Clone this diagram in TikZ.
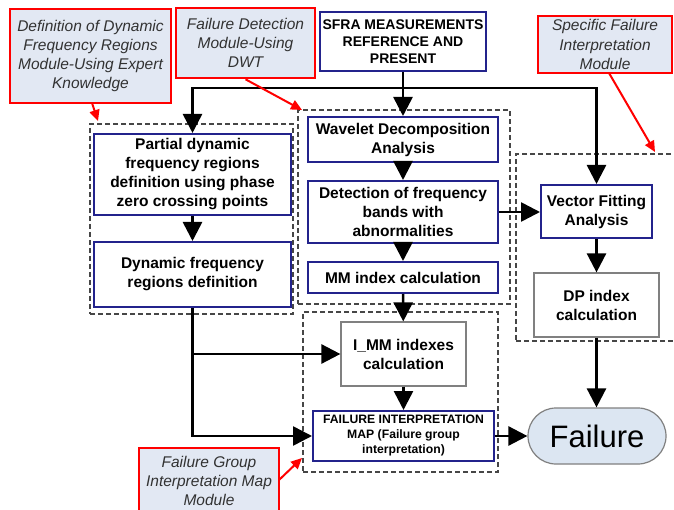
\documentclass[tikz,border=0pt]{standalone}
\usepackage{fontspec}
\setmainfont{Liberation Sans}
\usetikzlibrary{arrows.meta}
\definecolor{navyc}{RGB}{35,35,140}
\definecolor{grayc}{RGB}{128,128,128}
\definecolor{notefill}{RGB}{226,232,243}
\definecolor{notetext}{RGB}{50,50,50}
\definecolor{dashc}{RGB}{70,70,70}
\definecolor{failfill}{RGB}{220,230,242}
\tikzset{
  bluebox/.style={draw=navyc, line width=2pt, fill=white, align=center, inner sep=0pt,
    font=\bfseries\fontsize{15.5}{19}\selectfont},
  graybox/.style={draw=grayc, line width=1.2pt, fill=white, align=center, inner sep=0pt,
    font=\bfseries\fontsize{15.5}{19}\selectfont},
  note/.style={draw=red, line width=2.6pt, fill=notefill, align=center, inner sep=0pt,
    text=notetext, font=\itshape\fontsize{15.5}{19.3}\selectfont},
  group/.style={draw=dashc, line width=1.4pt, dash pattern=on 5pt off 3pt, inner sep=0pt},
  arr/.style={line width=2.6pt, -{Triangle[length=19pt,width=19pt]}},
  redarr/.style={draw=red, line width=2pt, -{Triangle[length=11pt,width=10pt]}}
}
\begin{document}
\begin{tikzpicture}[x=1pt,y=-1pt]
\path[use as bounding box] (0,0) rectangle (674,510);
\clip (0,0) rectangle (674,510);
\fill[white] (0,0) rectangle (674,510);

% groups
\node[group, minimum width=203, minimum height=190] (g1) at (191.5,219) {};
\node[group, minimum width=212, minimum height=194] (g2) at (404,207) {};
\node[group, minimum width=195, minimum height=160] (g3) at (400.5,392) {};
\node[group, minimum width=180, minimum height=187] (g4) at (606,247.5) {};

% notes
\node[note, minimum width=161, minimum height=94] (n1) at (90.5,56)
  {Definition of Dynamic\\Frequency Regions\\Module-Using Expert\\Knowledge};
\node[note, minimum width=139, minimum height=70] (n2) at (245.5,43)
  {Failure Detection\\Module-Using\\DWT};
\node[note, minimum width=134, minimum height=57] (n3) at (605,44.5)
  {Specific Failure\\Interpretation\\Module};
\node[note, minimum width=140, minimum height=66] (n4) at (209,481)
  {Failure Group\\Interpretation Map\\Module};

% process boxes
\node[bluebox, minimum width=166, minimum height=59,
  font=\bfseries\fontsize{14}{16.7}\selectfont] (sfra) at (403,41.5)
  {SFRA MEASUREMENTS\\REFERENCE AND\\PRESENT};
\node[bluebox, minimum width=197, minimum height=81] (partial) at (192.5,174.5)
  {Partial dynamic\\frequency regions\\definition using phase\\zero crossing points};
\node[bluebox, minimum width=197, minimum height=65] (dynamic) at (192.5,274.5)
  {Dynamic frequency\\regions definition};
\node[bluebox, minimum width=190, minimum height=45] (wavelet) at (403,139.5)
  {Wavelet Decomposition\\Analysis};
\node[bluebox, minimum width=190, minimum height=62] (detect) at (403,212)
  {Detection of frequency\\bands with\\abnormalities};
\node[bluebox, minimum width=190, minimum height=31] (mm) at (403,277.5)
  {MM index calculation};
\node[bluebox, minimum width=111, minimum height=53] (vf) at (596.5,211.5)
  {Vector Fitting\\Analysis};
\node[graybox, minimum width=125, minimum height=64] (dp) at (596.5,305)
  {DP index\\calculation};
\node[graybox, minimum width=125, minimum height=64] (imm) at (403.5,354)
  {I\_MM indexes\\calculation};
\node[bluebox, minimum width=181, minimum height=50,
  font=\bfseries\fontsize{12.2}{15}\selectfont] (fim) at (403.5,436)
  {FAILURE INTERPRETATION\\MAP (Failure group\\interpretation)};
\node[draw=grayc, line width=1.2pt, fill=failfill, rounded corners=28pt,
  minimum width=138, minimum height=56, inner sep=0pt,
  font=\fontsize{31}{36}\selectfont] (fail) at (597,436) {Failure};

% connectors
\coordinate (jx) at (403,88);
\draw[arr] (sfra) -- (wavelet);
\draw[arr] (jx) -| (partial);
\draw[arr] (jx) -| (vf);
\draw[arr] (partial) -- (dynamic);
\draw[arr] (wavelet) -- (detect);
\draw[arr] (detect) -- (mm);
\draw[arr] (mm) -- (imm);
\draw[arr] (detect.east) -- (detect.east -| vf.west);
\draw[arr] (vf) -- (dp);
\draw[arr] (dp.south) -- (dp.south |- fail.north);
\draw[arr] (imm) -- (fim);
\draw[arr] (fim) -- (fail);
\draw[arr] (dynamic.south) |- (fim.west);
\draw[arr] (dynamic.south |- imm.west) -- (imm.west);

% note pointers
\coordinate (t1) at (98,121);
\coordinate (t2) at (302,110);
\coordinate (t3) at (655,152);
\coordinate (t4) at (302,458);
\draw[redarr] (92,103) -- (t1);
\draw[redarr] (n2.south) -- (t2);
\draw[redarr] (609,73) -- (t3);
\draw[redarr] (279,480) -- (t4);
\end{tikzpicture}
\end{document}
